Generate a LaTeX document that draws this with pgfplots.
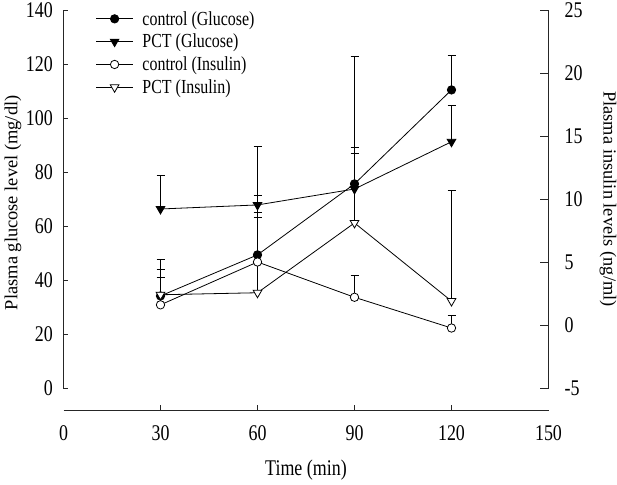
\documentclass[border=0pt]{standalone}
\usepackage{fontspec}
\setmainfont{Liberation Serif}[FakeStretch=0.8]
\newfontfamily\ylabfont{Liberation Serif}
\usepackage{pgfplots}
\pgfplotsset{compat=1.18}
\begin{document}
\begin{tikzpicture}
\pgfplotsset{
  every axis/.append style={
    scale only axis, width=485bp, height=378bp, xmin=0, xmax=150,
    /pgf/number format/assume math mode=true,
    tick label style={font=\fontsize{22.5}{25}\selectfont},
    axis line style={line width=0.8bp, black!85},
    tick style={line width=0.8bp, black!85},
    tick align=inside,
  },
  ebar/.style={error bars/.cd, y dir=plus, y explicit,
    error bar style={line width=0.7bp, black},
    error mark options={mark size=4bp, line width=0.7bp, black, rotate=90}},
}
% glucose axis (left)
\begin{axis}[name=main, at={(0,0)}, anchor=south west,
  axis x line=none, axis y line*=left,
  ymin=0, ymax=140, ytick={0,20,...,140},
  major tick length=5bp,
  yticklabel style={inner sep=0pt, xshift=-10.5bp, anchor=east},
  ylabel={Plasma glucose level (mg/dl)},
  ylabel style={font=\ylabfont\fontsize{18.5}{20}\selectfont, at={(axis description cs:-0.104,0.49)}, anchor=center},
  legend style={draw=none, fill=none, at={(rel axis cs:0,1)}, anchor=north west,
    xshift=30bp, yshift=3bp, font=\fontsize{20}{22}\selectfont, inner sep=2bp,
    row sep=3.5bp, cells={anchor=west},
    /tikz/every odd column/.append style={column sep=7bp}},
  legend image code/.code={\draw[mark repeat=2,mark phase=2,#1] plot coordinates {(0bp,0bp) (18.5bp,0bp) (37bp,0bp)};},
]
\addplot[black, line width=0.8bp, mark=*, mark size=4.2bp, mark options={fill=black}, ebar]
  table[x=x, y=y, y error=e] {
x y e
30 34.1 13.7
60 49.3 15.8
90 75.6 13.5
120 110.4 12.7
};
\addlegendentry{control (Glucose)}
\addplot[black, line width=0.8bp, mark=triangle*, mark size=5bp, mark options={fill=black, rotate=180}, ebar]
  table[x=x, y=y, y error=e] {
x y e
30 66.3 12.3
60 67.8 21.8
90 73.7 13.2
120 91.2 13.6
};
\addlegendentry{PCT (Glucose)}
\addlegendimage{black, line width=0.8bp, mark=*, mark size=4.2bp, mark options={fill=white}}
\addlegendentry{control (Insulin)}
\addlegendimage{black, line width=0.8bp, mark=triangle*, mark size=5bp, mark options={fill=white, rotate=180}}
\addlegendentry{PCT (Insulin)}
\end{axis}
% insulin axis (right)
\begin{axis}[at={(0,0)}, anchor=south west,
  axis x line=none, axis y line*=right,
  ymin=-5, ymax=25, ytick={-5,0,...,25},
  major tick length=9bp,
  yticklabel style={inner sep=0pt, xshift=16bp, anchor=west},
  ylabel={Plasma insulin levels (ng/ml)},
  ylabel style={font=\ylabfont\fontsize{18.5}{20}\selectfont, at={(axis description cs:1.1227,0.5)}, anchor=center, rotate=180},
]
\addplot[black, line width=0.8bp, mark=*, mark size=4.2bp, mark options={fill=white}, ebar]
  table[x=x, y=y, y error=e] {
x y e
30 1.6 2.15
60 5.0 5.3
90 2.2 1.77
120 -0.24 0.99
};
\addplot[black, line width=0.8bp, mark=triangle*, mark size=5bp, mark options={fill=white, rotate=180}, ebar]
  table[x=x, y=y, y error=e] {
x y e
30 2.4 2.0
60 2.56 6.0
90 8.1 13.2
120 1.9 8.76
};
\end{axis}
% detached x axis
\begin{axis}[at={(0,-22bp)}, anchor=south west, height=10bp,
  ymin=0, ymax=1, axis y line=none, axis x line*=bottom,
  xtick={30,60,90,120}, extra x ticks={0,150},
  extra x tick style={major tick length=0pt},
  major tick length=5bp,
  xticklabel style={inner sep=0pt, yshift=-15bp, anchor=north},
  xlabel={Time (min)},
  xlabel style={font=\fontsize{22.5}{25}\selectfont, at={(axis description cs:0.5,0)}, anchor=center, yshift=-60bp},
]
\end{axis}
\pgfresetboundingbox
\path[use as bounding box] (-63.5bp,-97bp) rectangle (553.5bp,388bp);
\end{tikzpicture}
\end{document}
